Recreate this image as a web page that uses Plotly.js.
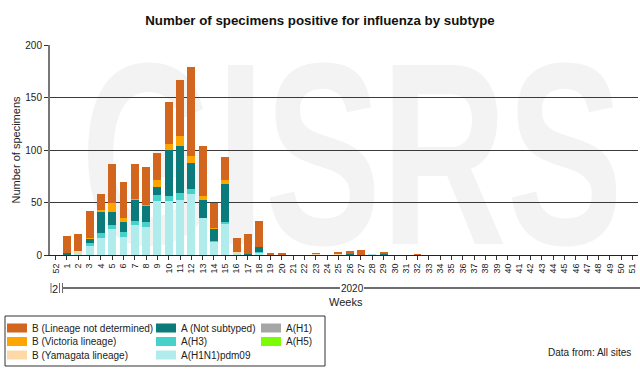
<!DOCTYPE html>
<html>
<head>
<meta charset="utf-8">
<script src="https://cdn.plot.ly/plotly-3.0.1.min.js"></script>
<style>
  html, body { margin: 0; padding: 0; background: #ffffff; }
  #wrap { position: relative; width: 640px; height: 370px; overflow: hidden; }
  #wm { position: absolute; left: 352px; top: 61px; font-family: "Liberation Sans", Arial, sans-serif;
        font-weight: bold; font-size: 260px; line-height: 186px; height: 186px; color: #f3f3f3; white-space: nowrap;
        transform: translateX(-50%) scaleX(0.67); z-index: 0; }
  #chart { position: absolute; left: 0; top: 0; width: 640px; height: 370px; z-index: 1; }
</style>
</head>
<body>
<div id="wrap">
  <div id="wm">GISRS</div>
  <div id="chart"></div>
</div>
<script>
const weeks = ['52','1','2','3','4','5','6','7','8','9','10','11','12','13','14','15','16','17','18','19','20',
  '21','22','23','24','25','26','27','28','29','30','31','32','33','34','35','36','37','38','39','40',
  '41','42','43','44','45','46','47','48','49','50','51'];

const h1n1pdm09 = [0,0,2,9,16,25,17,29,27,51,51,52,58,
                   35,12,30,2,0,2,0,0,0,0,0,0,0,
                   0,0,1,0,0,0,0,0,0,0,0,0,0,
                   0,0,0,0,0,0,0,0,0,0,0,0,0];
const aH3 =       [0,0,0,2,5,4,5,3,4,6,5,7,5,
                   0,1,1,0,0,1,0,0,0,0,0,0,0,
                   0,0,0,0,0,0,0,0,0,0,0,0,0,
                   0,0,0,0,0,0,0,0,0,0,0,0,0];
const aNotSubtyped = [0,2,0,4,20,12,9,20,16,8,44,45,25,
                   17,12,37,0,1,5,0,0,0,0,0,0,0,
                   1,0,0,1,0,0,0,0,0,0,0,0,0,
                   0,0,0,0,0,0,0,0,0,0,0,0,0];
const aH1 =       [0,0,0,0,0,0,0,0,0,0,0,0,0,
                   0,0,0,0,0,0,0,0,0,0,0,0,0,
                   0,0,0,0,0,0,0,0,0,0,0,0,0,
                   0,0,0,0,0,0,0,0,0,0,0,0,0];
const aH5 =       [0,0,0,0,0,0,0,0,0,0,0,0,0,
                   0,0,0,0,0,0,0,0,0,0,0,0,0,
                   0,0,0,0,0,0,0,0,0,0,0,0,0,
                   0,0,0,0,0,0,0,0,0,0,0,0,0];
const bYamagata = [0,0,2,0,0,0,0,0,0,0,0,0,0,
                   0,0,0,1,0,0,0,0,0,0,1,0,1,
                   0,0,0,0,0,0,0,0,0,0,0,0,0,
                   0,0,0,0,0,0,0,0,0,0,0,0,0];
const bVictoria = [0,0,0,1,2,9,4,1,1,6,6,9,6,
                   4,1,3,0,0,0,0,0,0,0,0,0,0,
                   0,0,0,0,0,0,0,0,0,0,0,0,0,
                   0,0,0,0,0,0,0,0,0,0,0,0,0];
const bLineageND = [0,16,16,26,15,37,35,34,36,26,40,54,85,
                   48,24,22,13,19,24,2,2,0,0,1,0,2,
                   3,5,0,2,0,0,1,0,0,0,0,0,0,
                   0,0,0,0,0,0,0,0,0,0,0,0,0];

const yTicks = [0, 50, 100, 150, 200];

const seriesNames = ['A(H1N1)pdm09','A(H3)','A (Not subtyped)','A(H1)','A(H5)','B (Yamagata lineage)','B (Victoria lineage)','B (Lineage not determined)'];
const seriesValues = [h1n1pdm09, aH3, aNotSubtyped, aH1, aH5, bYamagata, bVictoria, bLineageND];
const seriesColors = ['#b0ecec','#46d1cb','#0b7a7a','#a6a6a6','#7cfc00','#fdd9a8','#ffa500','#d2661f'];

const traces = seriesNames.map((n, i) => ({
  type: 'bar', name: n, x: weeks, y: seriesValues[i],
  marker: { color: seriesColors[i], line: { width: 0 } },
  showlegend: false
}));

// pixel -> paper helpers
const L = 50, R = 638, T = 45, B = 255;
const px = x => (x - L) / (R - L);
const py = y => (B - y) / (B - T);

const font = "Liberation Sans, Arial, sans-serif";
const shapes = [];
const annotations = [];

// second level x axis (years)
const gray = '#6e6e6e';
shapes.push({type:'line', xref:'paper', yref:'paper', x0:px(51), x1:px(51), y0:py(283), y1:py(293), line:{color:gray, width:1}});
shapes.push({type:'line', xref:'paper', yref:'paper', x0:px(59.5), x1:px(59.5), y0:py(283), y1:py(293), line:{color:gray, width:1}});
shapes.push({type:'line', xref:'paper', yref:'paper', x0:px(62.5), x1:px(62.5), y0:py(283), y1:py(293), line:{color:gray, width:1}});
shapes.push({type:'line', xref:'paper', yref:'paper', x0:px(63), x1:px(340), y0:py(288), y1:py(288), line:{color:gray, width:2}});
shapes.push({type:'line', xref:'paper', yref:'paper', x0:px(364), x1:px(640), y0:py(288), y1:py(288), line:{color:gray, width:2}});
annotations.push({xref:'paper', yref:'paper', x:px(55.3), y:py(289), text:'2', showarrow:false, font:{family:font, size:11, color:'#222'}, xanchor:'center', yanchor:'middle'});
annotations.push({xref:'paper', yref:'paper', x:px(352), y:py(288), text:'2020', showarrow:false, font:{family:font, size:10, color:'#222'}, xanchor:'center', yanchor:'middle'});
annotations.push({xref:'paper', yref:'paper', x:px(346), y:py(302), text:'Weeks', showarrow:false, font:{family:font, size:11, color:'#222'}, xanchor:'center', yanchor:'middle'});

// legend box
shapes.push({type:'rect', xref:'paper', yref:'paper', x0:px(5), x1:px(325), y0:py(316), y1:py(366), line:{color:'#333', width:1}, fillcolor:'rgba(0,0,0,0)'});
const legendOrder = [
  [7, 7, 328], [6, 7, 341.5], [5, 7, 355],
  [2, 156, 328], [1, 156, 341.5], [0, 156, 355],
  [3, 261, 328], [4, 261, 341.5]
];
legendOrder.forEach(([si, x, y]) => {
  shapes.push({type:'rect', xref:'paper', yref:'paper', x0:px(x), x1:px(x + 20), y0:py(y - 4.5), y1:py(y + 4.5), line:{width:0}, fillcolor:seriesColors[si]});
  annotations.push({xref:'paper', yref:'paper', x:px(x + 23), y:py(y), text:seriesNames[si], showarrow:false, xanchor:'left', yanchor:'middle', font:{family:font, size:10, color:'#222'}});
});

annotations.push({xref:'paper', yref:'paper', x:px(546), y:py(352), text:'Data from: All sites', showarrow:false, xanchor:'left', yanchor:'middle', font:{family:font, size:10, color:'#222'}});

const layout = {
  width: 640, height: 370,
  margin: { l: L, r: 640 - R, t: T, b: 370 - B },
  paper_bgcolor: 'rgba(0,0,0,0)', plot_bgcolor: 'rgba(0,0,0,0)',
  barmode: 'stack', bargap: 0.3,
  showlegend: false,
  title: { text: '<b>Number of specimens positive for influenza by subtype</b>', x: 0.5, xanchor: 'center', y: 1 - 20/370, yanchor: 'middle', font: { family: font, size: 13.3, color: '#111' } },
  xaxis: {
    type: 'category', categoryorder: 'array', categoryarray: weeks,
    tickmode: 'array', tickvals: weeks, ticktext: weeks,
    tickangle: -90, ticks: 'outside', ticklen: 4, tickcolor: '#333',
    tickfont: { family: font, size: 9, color: '#222' },
    showline: true, linecolor: '#222', linewidth: 1, showgrid: false, fixedrange: true
  },
  yaxis: {
    range: [0, 200], tickvals: yTicks, ticks: 'outside', ticklen: 4, tickcolor: '#333',
    tickfont: { family: font, size: 10, color: '#222' },
    showgrid: true, gridcolor: '#3a3a3a', gridwidth: 1, zeroline: false,
    showline: true, linecolor: '#777', linewidth: 2,
    title: { text: 'Number of specimens', font: { family: font, size: 11, color: '#222' }, standoff: 2 },
    fixedrange: true
  },
  shapes: shapes,
  annotations: annotations
};

Plotly.newPlot('chart', traces, layout, { staticPlot: true, displayModeBar: false });
</script>
</body>
</html>
